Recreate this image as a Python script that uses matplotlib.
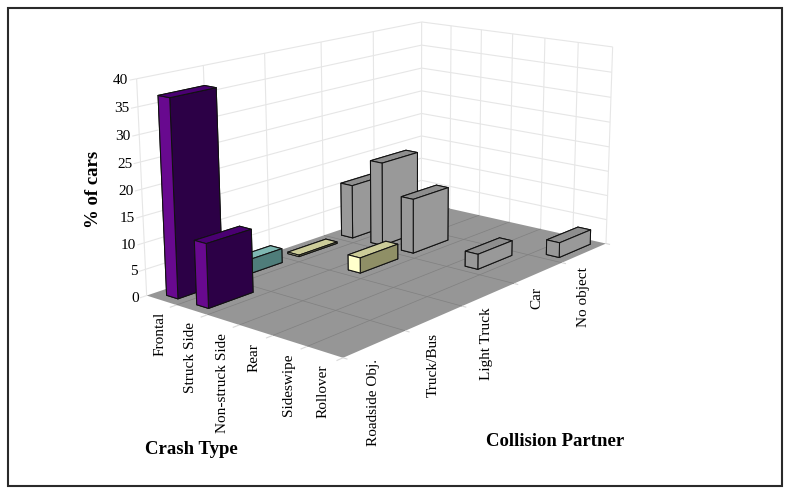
import numpy as np
import matplotlib
matplotlib.use("Agg")
import matplotlib.pyplot as plt
from matplotlib.patches import Rectangle
from mpl_toolkits.mplot3d.art3d import Line3DCollection

plt.rcParams['font.family'] = ['Liberation Serif', 'DejaVu Serif']

crash_types = ["Frontal", "Struck Side", "Non-struck Side", "Rear", "Sideswipe", "Rollover"]
partners = ["Roadside Obj.", "Truck/Bus", "Light Truck", "Car", "No object"]
z_ticks = [0, 5, 10, 15, 20, 25, 30, 35, 40]

# % of cars per crash type, one list per collision partner
roadside = [37, 12, 0, 0, 0, 0]
truck_bus = [2.8, 0, 0, 0, 0, 0]
light_truck = [0.3, 0, 3, 0, 0, 0]
car = [11, 17, 11, 0, 3, 0]
no_object = [0, 0, 0, 0, 0, 3]
series = [roadside, truck_bus, light_truck, car, no_object]

# (side face, top face, wide face) for each partner
face_colors = [("#68098f", "#4a0072", "#2c0046"),
               ("#6fa8a3", "#7fb8b2", "#4f7d7a"),
               ("#ffffcc", "#cccc99", "#8f8f66"),
               ("#999999", "#8e8e8e", "#999999"),
               ("#999999", "#8e8e8e", "#999999")]

W, H = 790, 495

# where box corners sit in the picture: (crash, partner, pct) -> pixel
anchors = [((0, 0, 0), (146.5, 295)), ((6, 0, 0), (343, 358)), ((6, 5, 0), (606, 243)),
           ((0, 5, 0), (421.5, 203)), ((0, 0, 40), (136.5, 79)), ((0, 5, 40), (422, 22)),
           ((6, 5, 40), (613, 47)), ((0, 1, 40), (203, 66)), ((0, 2, 40), (265, 53)),
           ((0, 3, 40), (322, 42)), ((0, 4, 40), (373, 31)), ((1, 5, 40), (450, 26)),
           ((2, 5, 40), (481, 29)), ((3, 5, 40), (513, 34)), ((4, 5, 40), (545, 38)),
           ((5, 5, 40), (578, 43))]


def fit_camera(points):
    rows = []
    for (x, y, z), (u, v) in points:
        rows.append([x, y, z, 1, 0, 0, 0, 0, -u*x, -u*y, -u*z, -u])
        rows.append([0, 0, 0, 0, x, y, z, 1, -v*x, -v*y, -v*z, -v])
    return np.linalg.svd(np.array(rows, dtype=float))[2][-1].reshape(3, 4)


cam = fit_camera(anchors)

fig = plt.figure(figsize=(W/100, H/100), dpi=100)
# square axes wider than the figure is tall, mplot3d insists on square
ax = fig.add_axes([0, (H - W)/2/H, 1, W/H], projection='3d', computed_zorder=False)
ax.set_axis_off()


def get_proj():
    flip = np.array([[1, 0, 0], [0, -1, H], [0, 0, 1]], dtype=float)
    m = ax.transData.inverted().get_matrix() @ flip @ cam
    depth = np.array([-1, 1, -0.02, 0.0]) * cam[2, :].sum()
    return np.vstack([m[0], m[1], depth, m[2]])


ax.get_proj = get_proj


def add_lines(segs, color, lw, zorder):
    ax.add_collection3d(Line3DCollection(segs, colors=color, linewidths=lw, zorder=zorder))


# walls
wall = "#e6e6e6"
segs = []
for z in z_ticks:
    segs.append([(0, -0.1, z), (0, 0, z)])
for z in z_ticks[1:]:
    segs.append([(0, 0, z), (0, 5, z)])
    segs.append([(0, 5, z), (6, 5, z)])
for j in range(6):
    segs.append([(0, j, 0), (0, j, 40)])
for i in range(1, 7):
    segs.append([(i, 5, 0), (i, 5, 40)])
add_lines(segs, wall, 0.8, 1)

# floor
xx, yy = np.meshgrid([0, 6], [0, 5])
ax.plot_surface(xx, yy, np.zeros_like(xx), color="#969696", shade=False, zorder=2)
segs = [[(i, 0, 0), (i, 5, 0)] for i in range(1, 6)] + [[(0, j, 0), (6, j, 0)] for j in range(1, 5)]
add_lines(segs, "#808080", 0.5, 3)
segs = [[(i, -0.1, 0), (i, 0, 0)] for i in range(1, 7)] + [[(6, j, 0), (6.12, j, 0)] for j in range(0, 6)]
add_lines(segs, "#d8d8d8", 0.8, 3)

# bars, far ones first
bar_w, bar_d = 0.38, 0.70
for j, vals in enumerate(series):
    side, top, wide = face_colors[j]
    for i, v in enumerate(vals):
        if v > 0:
            ax.bar3d(i + 0.53 - bar_w/2, j + 0.5 - bar_d/2, 0, bar_w, bar_d, v,
                     color=[side, top, side, side, side, wide], shade=False,
                     edgecolor="#111111", linewidth=0.75, zorder=10 + i - j)

ax.set_xticks([])
ax.set_yticks([])
ax.set_zticks([])


def put(px, py, s, **kw):
    fig.text(px/W, 1 - py/H, s, **kw)


# value labels next to the wall corner
for z in z_ticks:
    u, v, w = cam @ np.array([0, -0.12, z, 1.0])
    put(u/w, v/w, str(z), ha="right", va="center", fontsize=11)

crash_x = [160, 190, 222, 254, 288, 323]
crash_y = [312, 322, 333, 343, 353, 365]
partner_x = [373, 433, 487, 537, 583]
partner_y = [359, 333, 307, 287, 267]
for name, x, y in zip(crash_types, crash_x, crash_y):
    put(x, y, name, rotation=90, ha="center", va="top", fontsize=11)
for name, x, y in zip(partners, partner_x, partner_y):
    put(x, y, name, rotation=90, ha="center", va="top", fontsize=11)

put(191.5, 450, "Crash Type", ha="center", va="center", fontsize=13.5, fontweight="bold")
put(555.5, 442, "Collision Partner", ha="center", va="center", fontsize=13.5, fontweight="bold")
put(94, 189, "% of cars", rotation=90, ha="center", va="center", fontsize=13.5, fontweight="bold")

fig.add_artist(Rectangle((7.5/W, 1 - 485.5/H), 774/W, 478/H, transform=fig.transFigure,
                         fill=False, edgecolor="#2a2a2a", linewidth=1.5))

fig.savefig("out.png", dpi=100)
